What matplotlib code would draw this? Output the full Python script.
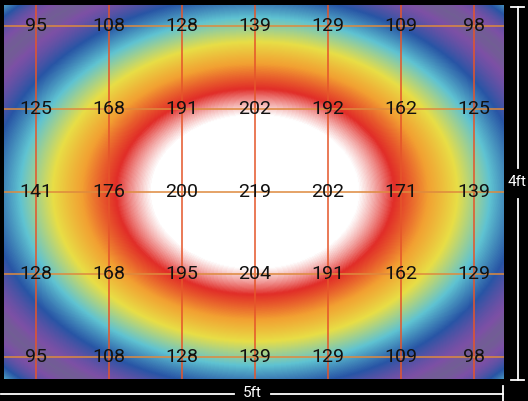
import numpy as np
import matplotlib
matplotlib.use("Agg")
import matplotlib.pyplot as plt
from matplotlib.colors import LinearSegmentedColormap

# PPFD readings, rows front-to-back, columns left-to-right
row1 = [95, 108, 128, 139, 129, 109, 98]
row2 = [125, 168, 191, 202, 192, 162, 125]
row3 = [141, 176, 200, 219, 202, 171, 139]
row4 = [128, 168, 195, 204, 191, 162, 129]
row5 = [95, 108, 128, 139, 129, 109, 98]
width_label = "5ft"
depth_label = "4ft"

grid = np.array([row1, row2, row3, row4, row5], dtype=float)
nrows, ncols = grid.shape

# sample spacing (horizontal vs vertical)
dx, dy = 73.0, 82.75
x0, x1 = -0.44, ncols - 1 + 0.41
y0, y1 = -0.255, nrows - 1 + 0.265
cx, cy = (ncols - 1) / 2, (nrows - 1) / 2
squash = 1.35    # light falls off faster front-to-back than side-to-side
rnorm = 300.0


def radius(col, row):
    u = (col - cx) * dx
    v = (row - cy) * dy * squash
    return np.hypot(u, v) / rnorm


def basis(r, deg=3):
    return np.column_stack([r ** (2 * k) for k in range(deg + 1)])


# radial falloff profile fitted to all readings
cc, rr = np.meshgrid(np.arange(ncols), np.arange(nrows))
coef, *_ = np.linalg.lstsq(basis(radius(cc.ravel(), rr.ravel())),
                           grid.ravel(), rcond=None)

xs = np.linspace(x0, x1, 500)
ys = np.linspace(y0, y1, 380)
GX, GY = np.meshgrid(xs, ys)
field = (basis(radius(GX.ravel(), GY.ravel())) @ coef).reshape(GX.shape)

stops = [
    (87, (65, 155, 80)),
    (98, (125, 80, 165)),
    (111, (40, 85, 165)),
    (130, (95, 195, 210)),
    (152, (232, 222, 70)),
    (170, (242, 160, 50)),
    (187, (225, 45, 40)),
    (200, (255, 255, 255)),
]
vmin, vmax = stops[0][0], stops[-1][0]
cmap = LinearSegmentedColormap.from_list(
    "ppfd",
    [((v - vmin) / (vmax - vmin), tuple(c / 255 for c in rgb)) for v, rgb in stops],
)

fig = plt.figure(figsize=(5.28, 4.01), dpi=100, facecolor="black")
ax = fig.add_axes([4 / 528, 22 / 401, 500 / 528, 374 / 401])
ax.set_facecolor("black")
ax.imshow(field, cmap=cmap, vmin=vmin, vmax=vmax, extent=(x0, x1, y1, y0),
          aspect="auto", interpolation="bilinear")

for c in range(ncols):
    ax.axvline(c, color="#e5552a", alpha=0.85, lw=1.3)
for r in range(nrows):
    ax.axhline(r, color="#de8a3e", alpha=0.85, lw=1.3)

for r in range(nrows):
    for c in range(ncols):
        ax.text(c, r, f"{int(grid[r, c])}", ha="center", va="center",
                fontsize=14, color="#111111", family="Roboto")

ax.set_xlim(x0, x1)
ax.set_ylim(y1, y0)
ax.axis("off")

# dimension markers
W, H = 528, 401


def px(x, y):
    return x / W, 1 - y / H


lw = 1.3
wc = "white"
# width
fig.add_artist(plt.Line2D(*zip(px(1, 394), px(234, 394)), color=wc, lw=lw))
fig.add_artist(plt.Line2D(*zip(px(271, 394), px(503, 394)), color=wc, lw=lw))
fig.add_artist(plt.Line2D(*zip(px(503, 386), px(503, 401)), color=wc, lw=lw))
fig.text(*px(252, 393), width_label, color=wc, ha="center", va="center",
         fontsize=11, family="Roboto")
# depth
fig.add_artist(plt.Line2D(*zip(px(518, 7), px(518, 168)), color=wc, lw=lw))
fig.add_artist(plt.Line2D(*zip(px(518, 199), px(518, 380)), color=wc, lw=lw))
fig.add_artist(plt.Line2D(*zip(px(511, 7), px(524, 7)), color=wc, lw=lw))
fig.add_artist(plt.Line2D(*zip(px(511, 380), px(524, 380)), color=wc, lw=lw))
fig.text(*px(517, 182), depth_label, color=wc, ha="center", va="center",
         fontsize=11, family="Roboto")

fig.savefig("out.png", dpi=100, facecolor="black")
